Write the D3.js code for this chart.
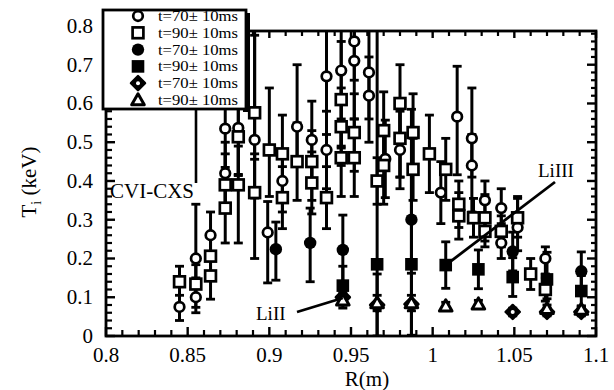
<!DOCTYPE html>
<html>
<head>
<meta charset="utf-8">
<script src="https://cdn.jsdelivr.net/npm/d3@7"></script>
<style>
  body { margin: 0; background: #fff; }
  svg { display: block; }
</style>
</head>
<body>
<svg id="chart" width="614" height="390" font-family="'Liberation Serif', 'DejaVu Serif', 'Times New Roman', serif"></svg>
<script>
// CVI-CXS, t=70±10ms (open circles)
const cxs70R   = [0.845,0.855,0.855,0.864,0.873,0.873,0.881,0.891,0.899,0.908,0.917,0.926,0.935,0.935,0.944,0.952,0.952,0.961,0.961,0.971,0.980,0.980,1.005,1.015,1.024,1.024,1.032,1.042,1.042,1.052,1.069];
const cxs70Ti  = [0.075,0.20,0.10,0.26,0.535,0.42,0.537,0.506,0.267,0.40,0.54,0.506,0.67,0.48,0.685,0.76,0.71,0.68,0.62,0.457,0.51,0.48,0.37,0.566,0.51,0.44,0.35,0.33,0.24,0.28,0.20];
const cxs70Lo  = [0.035,0.05,0.04,0.06,0.10,0.08,0.12,0.15,0.13,0.08,0.10,0.10,0.15,0.10,0.20,0.10,0.15,0.12,0.12,0.10,0.10,0.10,0.08,0.15,0.10,0.12,0.08,0.06,0.04,0.06,0.04];
const cxs70Hi  = [0.03,0.14,0.04,0.06,0.20,0.08,0.15,0.30,0.08,0.08,0.16,0.10,0.20,0.10,0.20,0.10,0.10,0.15,0.10,0.10,0.10,0.10,0.08,0.13,0.13,0.08,0.05,0.05,0.05,0.08,0.03];

// CVI-CXS, t=90±10ms (open squares)
const cxs90R   = [0.845,0.855,0.864,0.864,0.873,0.873,0.881,0.881,0.891,0.891,0.900,0.908,0.908,0.917,0.926,0.926,0.935,0.944,0.944,0.944,0.952,0.952,0.966,0.970,0.970,0.980,0.980,0.988,0.988,0.998,1.008,1.016,1.016,1.025,1.032,1.032,1.042,1.052,1.060,1.069];
const cxs90Ti  = [0.14,0.134,0.206,0.155,0.39,0.33,0.514,0.39,0.576,0.37,0.48,0.47,0.357,0.45,0.45,0.395,0.357,0.61,0.54,0.46,0.525,0.46,0.40,0.53,0.44,0.60,0.51,0.525,0.43,0.47,0.43,0.34,0.31,0.305,0.305,0.27,0.27,0.305,0.16,0.12];
const cxs90Lo  = [0.06,0.06,0.06,0.06,0.06,0.09,0.10,0.15,0.12,0.17,0.12,0.10,0.08,0.10,0.10,0.08,0.08,0.12,0.10,0.10,0.10,0.10,0.06,0.10,0.10,0.12,0.10,0.10,0.08,0.10,0.08,0.06,0.06,0.05,0.06,0.04,0.04,0.05,0.04,0.03];
const cxs90Hi  = [0.04,0.05,0.06,0.06,0.08,0.06,0.12,0.10,0.20,0.10,0.16,0.10,0.08,0.10,0.08,0.08,0.08,0.15,0.10,0.10,0.10,0.10,0.06,0.10,0.10,0.10,0.10,0.10,0.08,0.10,0.08,0.06,0.06,0.05,0.06,0.04,0.04,0.05,0.04,0.03];

// LiIII, t=70±10ms (filled circles)
const li3t70R  = [0.904,0.925,0.945,0.987,1.049,1.091];
const li3t70Ti = [0.224,0.24,0.222,0.30,0.218,0.167];
const li3t70Lo = [0.08,0.10,0.09,0.12,0.05,0.05];
const li3t70Hi = [0.07,0.09,0.09,0.12,0.05,0.05];

// LiIII, t=90±10ms (filled squares)
const li3t90R  = [0.945,0.966,0.987,1.008,1.028,1.049,1.070,1.091];
const li3t90Ti = [0.13,0.185,0.185,0.183,0.172,0.152,0.146,0.116];
const li3t90Lo = [0.05,0.19,0.19,0.06,0.05,0.05,0.05,0.04];
const li3t90Hi = [0.05,0.62,0.40,0.06,0.05,0.05,0.07,0.04];

// LiII, t=70±10ms (diamonds)
const li2t70R  = [0.945,0.966,0.987,1.049,1.070,1.091];
const li2t70Ti = [0.10,0.08,0.082,0.062,0.062,0.062];
const li2t70Err= [0.02,0.08,0.08,0.01,0.01,0.01];

// LiII, t=90±10ms (triangles)
const li2t90R  = [0.945,0.966,0.987,1.008,1.028,1.070,1.091];
const li2t90Ti = [0.092,0.085,0.085,0.077,0.082,0.07,0.068];
const li2t90Err= [0.02,0.02,0.02,0.01,0.01,0.01,0.01];

const xTicks = [0.8, 0.85, 0.9, 0.95, 1, 1.05, 1.1];
const xTickLabels = ["0.8", "0.85", "0.9", "0.95", "1", "1.05", "1.1"];
const yTicks = [0, 0.1, 0.2, 0.3, 0.4, 0.5, 0.6, 0.7, 0.8];
const yTickLabels = ["0", "0.1", "0.2", "0.3", "0.4", "0.5", "0.6", "0.7", "0.8"];
const legendLabels = ["t=70\u00b1 10ms", "t=90\u00b1 10ms", "t=70\u00b1 10ms", "t=90\u00b1 10ms", "t=70\u00b1 10ms", "t=90\u00b1 10ms"];

const yTop = 0.787;
const serif = "'Liberation Serif', 'DejaVu Serif', 'Times New Roman', serif";

const svg = d3.select("#chart");
const x = d3.scaleLinear().domain([0.8, 1.1]).range([106, 596]);
const y = d3.scaleLinear().domain([0, yTop]).range([336, 31]);

function series(R, Ti, lo, hi, marker) {
    return R.map((r, i) => ({ r: r, t: Ti[i], lo: Ti[i] - lo[i], hi: Ti[i] + hi[i], marker: marker }));
}

const allSeries = [
    series(cxs70R, cxs70Ti, cxs70Lo, cxs70Hi, "openCircle"),
    series(cxs90R, cxs90Ti, cxs90Lo, cxs90Hi, "openSquare"),
    series(li3t70R, li3t70Ti, li3t70Lo, li3t70Hi, "filledCircle"),
    series(li3t90R, li3t90Ti, li3t90Lo, li3t90Hi, "filledSquare"),
    series(li2t70R, li2t70Ti, li2t70Err, li2t70Err, "diamond"),
    series(li2t90R, li2t90Ti, li2t90Err, li2t90Err, "triangle")
];

svg.append("clipPath").attr("id", "plotClip")
    .append("rect").attr("x", x(0.8)).attr("y", y(yTop)).attr("width", x(1.1) - x(0.8)).attr("height", y(0) - y(yTop));

const plot = svg.append("g").attr("clip-path", "url(#plotClip)");

// error bars
allSeries.forEach(s => {
    const g = plot.append("g");
    g.selectAll("line.bar").data(s).enter().append("line")
        .attr("x1", d => x(d.r)).attr("x2", d => x(d.r))
        .attr("y1", d => y(Math.max(0, d.lo))).attr("y2", d => y(d.hi))
        .attr("stroke", "#000").attr("stroke-width", 3);
    [d => d.lo, d => d.hi].forEach(end => {
        g.selectAll(null).data(s).enter().append("line")
            .attr("x1", d => x(d.r) - 4.5).attr("x2", d => x(d.r) + 4.5)
            .attr("y1", d => y(end(d))).attr("y2", d => y(end(d)))
            .attr("stroke", "#000").attr("stroke-width", 2.8);
    });
});

function drawMarker(g, type, cx, cy, scale) {
    const k = scale || 1;
    if (type === "openCircle") {
        g.append("circle").attr("cx", cx).attr("cy", cy).attr("r", 4.8 * k)
            .attr("fill", "#fff").attr("stroke", "#000").attr("stroke-width", 2.7);
    } else if (type === "openSquare") {
        g.append("rect").attr("x", cx - 5.4 * k).attr("y", cy - 5.4 * k).attr("width", 10.8 * k).attr("height", 10.8 * k)
            .attr("fill", "#fff").attr("stroke", "#000").attr("stroke-width", 2.7);
    } else if (type === "filledCircle") {
        g.append("circle").attr("cx", cx).attr("cy", cy).attr("r", 6.2 * k).attr("fill", "#000");
    } else if (type === "filledSquare") {
        g.append("rect").attr("x", cx - 6.3 * k).attr("y", cy - 6.3 * k).attr("width", 12.6 * k).attr("height", 12.6 * k).attr("fill", "#000");
    } else if (type === "diamond") {
        const s = 7 * k;
        g.append("path").attr("d", `M${cx},${cy - s}L${cx + s},${cy}L${cx},${cy + s}L${cx - s},${cy}Z`)
            .attr("fill", "#000").attr("stroke", "#000").attr("stroke-width", 2.5).attr("stroke-linejoin", "round");
        g.append("circle").attr("cx", cx).attr("cy", cy).attr("r", 2 * k).attr("fill", "#fff");
    } else if (type === "triangle") {
        const s = 6.3 * k;
        g.append("path").attr("d", `M${cx},${cy - s}L${cx + s},${cy + s * 0.75}L${cx - s},${cy + s * 0.75}Z`)
            .attr("fill", "#fff").attr("stroke", "#000").attr("stroke-width", 3).attr("stroke-linejoin", "round");
    }
}

// markers
allSeries.forEach(s => {
    const g = plot.append("g");
    s.forEach(d => drawMarker(g, d.marker, x(d.r), y(d.t)));
});

// frame
svg.append("rect")
    .attr("x", x(0.8)).attr("y", y(yTop))
    .attr("width", x(1.1) - x(0.8)).attr("height", y(0) - y(yTop))
    .attr("fill", "none").attr("stroke", "#000").attr("stroke-width", 2.8);

// x ticks (inward, bottom and top)
const xMinor = d3.range(0.81, 1.1, 0.01).filter(v => Math.abs(v * 20 - Math.round(v * 20)) > 1e-6);
const axisG = svg.append("g").attr("stroke", "#000");
xTicks.forEach(v => {
    axisG.append("line").attr("x1", x(v)).attr("x2", x(v)).attr("y1", y(0)).attr("y2", y(0) - 9).attr("stroke-width", 2.4);
    axisG.append("line").attr("x1", x(v)).attr("x2", x(v)).attr("y1", y(yTop)).attr("y2", y(yTop) + 7).attr("stroke-width", 2.4);
});
xMinor.forEach(v => {
    axisG.append("line").attr("x1", x(v)).attr("x2", x(v)).attr("y1", y(0)).attr("y2", y(0) - 6).attr("stroke-width", 2.2);
    axisG.append("line").attr("x1", x(v)).attr("x2", x(v)).attr("y1", y(yTop)).attr("y2", y(yTop) + 5).attr("stroke-width", 2.2);
});

// y ticks (inward, left and right)
const yMinor = d3.range(0.02, yTop, 0.02).filter(v => Math.abs(v * 10 - Math.round(v * 10)) > 1e-6);
yTicks.filter(v => v <= yTop).forEach(v => {
    axisG.append("line").attr("x1", x(0.8)).attr("x2", x(0.8) + 9).attr("y1", y(v)).attr("y2", y(v)).attr("stroke-width", 2.4);
    axisG.append("line").attr("x1", x(1.1)).attr("x2", x(1.1) - 9).attr("y1", y(v)).attr("y2", y(v)).attr("stroke-width", 2.4);
});
yMinor.forEach(v => {
    axisG.append("line").attr("x1", x(0.8)).attr("x2", x(0.8) + 6).attr("y1", y(v)).attr("y2", y(v)).attr("stroke-width", 2.2);
    axisG.append("line").attr("x1", x(1.1)).attr("x2", x(1.1) - 5).attr("y1", y(v)).attr("y2", y(v)).attr("stroke-width", 2.2);
});

// tick labels
svg.append("g").selectAll("text").data(xTicks).enter().append("text")
    .attr("x", d => x(d)).attr("y", 362).attr("font-family", serif)
    .attr("text-anchor", "middle").attr("font-size", 21)
    .text((d, i) => xTickLabels[i]);
svg.append("g").selectAll("text").data(yTicks).enter().append("text")
    .attr("x", 93).attr("y", d => y(d) + 7).attr("font-family", serif)
    .attr("text-anchor", "end").attr("font-size", 21)
    .text((d, i) => yTickLabels[i]);

// axis titles
svg.append("text").attr("x", 367).attr("y", 386).attr("font-family", serif)
    .attr("text-anchor", "middle").attr("font-size", 21).text("R(m)");
const yt = svg.append("text").attr("transform", "translate(36,182) rotate(-90)").attr("font-family", serif)
    .attr("text-anchor", "middle").attr("font-size", 21);
yt.append("tspan").text("T");
yt.append("tspan").attr("font-size", 14).attr("dy", 5).text("i");
yt.append("tspan").attr("dy", -5).text(" (keV)");

// annotations
svg.append("line").attr("x1", 196).attr("x2", 196).attr("y1", 110).attr("y2", 183).attr("stroke", "#000").attr("stroke-width", 2.6);
svg.append("text").attr("x", 110).attr("y", 198).attr("font-family", serif).attr("font-size", 21).text("CVI-CXS");
svg.append("line").attr("x1", 555).attr("y1", 182).attr("x2", x(1.008)).attr("y2", y(0.183)).attr("stroke", "#000").attr("stroke-width", 2.8);
svg.append("text").attr("x", 538).attr("y", 177).attr("font-family", serif).attr("font-size", 19).text("LiIII");
svg.append("line").attr("x1", 297).attr("y1", 312).attr("x2", x(0.945)).attr("y2", y(0.098)).attr("stroke", "#000").attr("stroke-width", 2.8);
svg.append("text").attr("x", 256).attr("y", 320).attr("font-family", serif).attr("font-size", 19).text("LiII");

// legend
const lg = svg.append("g");
lg.append("rect").attr("x", 243).attr("y", 13).attr("width", 7).attr("height", 99).attr("fill", "#000");
lg.append("rect").attr("x", 103).attr("y", 10).attr("width", 143).attr("height", 99)
    .attr("fill", "#fff").attr("stroke", "#000").attr("stroke-width", 2.8);
const legendMarkers = ["openCircle", "openSquare", "filledCircle", "filledSquare", "diamond", "triangle"];
legendMarkers.forEach((m, i) => {
    const ly = 16 + i * 16.8;
    drawMarker(lg, m, 138, ly, 1.0);
    lg.append("text").attr("x", 158).attr("y", ly + 5).attr("font-family", serif).attr("font-size", 14.5)
        .attr("textLength", 80).attr("lengthAdjust", "spacingAndGlyphs")
        .text(legendLabels[i]);
});
</script>
</body>
</html>
